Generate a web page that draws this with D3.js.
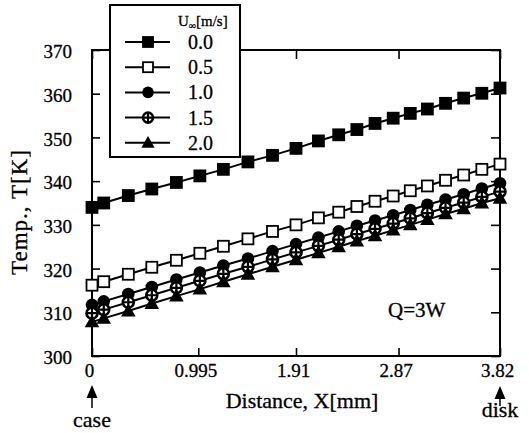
<!DOCTYPE html>
<html>
<head>
<meta charset="utf-8">
<script src="https://cdn.jsdelivr.net/npm/d3@7"></script>
<style>
  body { margin: 0; background: #fff; }
  svg { display: block; font-family: "Liberation Serif", "Times New Roman", serif; }
  text { stroke: #000; stroke-width: 0.3px; }
</style>
</head>
<body>
<div id="chart"></div>
<script>
// distance along the fin, mm
const distance = [0, 0.11, 0.34, 0.56, 0.79, 1.01, 1.23, 1.46, 1.69, 1.91, 2.12,
                  2.31, 2.48, 2.65, 2.82, 2.98, 3.14, 3.31, 3.48, 3.65, 3.82];

// temperature, K, one list per air velocity
const temp00 = [334.0, 335.0, 336.7, 338.2, 339.7, 341.2, 342.7, 344.4, 345.9, 347.5, 349.2,
                350.6, 351.8, 353.2, 354.4, 355.5, 356.5, 357.8, 359.0, 360.1, 361.3];
const temp05 = [316.2, 317.0, 318.7, 320.3, 321.9, 323.5, 325.1, 326.8, 328.5, 330.0, 331.6,
                332.9, 334.2, 335.4, 336.6, 337.8, 338.9, 340.2, 341.4, 342.7, 343.9];
const temp10 = [311.7, 312.5, 314.2, 315.8, 317.5, 319.1, 320.7, 322.3, 324.0, 325.6, 327.1,
                328.5, 329.8, 331.0, 332.2, 333.4, 334.6, 335.8, 337.0, 338.3, 339.5];
const temp15 = [309.8, 310.6, 312.3, 313.9, 315.6, 317.2, 318.8, 320.4, 322.1, 323.7, 325.2,
                326.6, 327.9, 329.1, 330.3, 331.5, 332.7, 333.9, 335.1, 336.4, 337.6];
const temp20 = [307.8, 308.6, 310.3, 312.0, 313.7, 315.3, 317.0, 318.7, 320.4, 322.0, 323.6,
                325.0, 326.3, 327.5, 328.8, 330.0, 331.2, 332.5, 333.7, 335.0, 336.1];

const seriesNames = ['0.0', '0.5', '1.0', '1.5', '2.0'];
const markerKinds = ['square', 'openSquare', 'circle', 'crossCircle', 'triangle'];

const xTicks = [0, 0.995, 1.91, 2.87, 3.82];
const xTickLabels = ['0', '0.995', '1.91', '2.87', '3.82'];
const yTicks = [300, 310, 320, 330, 340, 350, 360, 370];

const series = [temp00, temp05, temp10, temp15, temp20].map((vals, i) => ({
    name: seriesNames[i],
    kind: markerKinds[i],
    points: vals.map((v, j) => ({ x: distance[j], y: v }))
}));

const width = 529, height = 433;
const plotLeft = 92, plotRight = 500, plotTop = 50, plotBottom = 356;

const svg = d3.select('#chart').append('svg')
    .attr('width', width)
    .attr('height', height);

const x = d3.scaleLinear().domain([0, 3.82]).range([plotLeft, plotRight]);
const y = d3.scaleLinear().domain([300, 370]).range([plotBottom, plotTop]);

// axes with inward ticks
const xAxis = svg.append('g')
    .attr('transform', `translate(0,${plotBottom})`)
    .call(d3.axisBottom(x).tickValues(xTicks)
        .tickFormat((d, i) => xTickLabels[i]).tickSize(-8).tickPadding(8));
xAxis.selectAll('text').attr('font-size', 19).attr('dx', -3);

const yAxis = svg.append('g')
    .attr('transform', `translate(${plotLeft},0)`)
    .call(d3.axisLeft(y).tickValues(yTicks).tickSize(-8).tickPadding(20));
yAxis.selectAll('text').attr('font-size', 19).attr('dy', '0.4em');

svg.append('g')
    .attr('transform', `translate(${plotRight},0)`)
    .call(d3.axisRight(y).tickValues(yTicks).tickSize(-9).tickFormat(''));

svg.append('g')
    .attr('transform', `translate(0,${plotTop})`)
    .call(d3.axisTop(x).tickValues(xTicks).tickSize(-9).tickFormat(''));

svg.selectAll('.domain').remove();
svg.selectAll('.tick line').attr('stroke', '#000').attr('stroke-width', 1.6);
svg.selectAll('.tick text').attr('fill', '#000').attr('font-family', '"Liberation Serif", serif');

svg.append('rect')
    .attr('x', plotLeft).attr('y', plotTop)
    .attr('width', plotRight - plotLeft).attr('height', plotBottom - plotTop)
    .attr('fill', 'none').attr('stroke', '#000').attr('stroke-width', 2);

// markers
function drawMarker(g, kind, cx, cy, s) {
    if (kind === 'square' || kind === 'openSquare') {
        g.append('rect')
            .attr('x', cx - s / 2).attr('y', cy - s / 2)
            .attr('width', s).attr('height', s)
            .attr('fill', kind === 'square' ? '#000' : '#fff')
            .attr('stroke', '#000').attr('stroke-width', 1.8);
    } else if (kind === 'circle') {
        g.append('circle').attr('cx', cx).attr('cy', cy).attr('r', s / 2 + 0.8)
            .attr('fill', '#000');
    } else if (kind === 'crossCircle') {
        g.append('circle').attr('cx', cx).attr('cy', cy).attr('r', s / 2)
            .attr('fill', '#fff').attr('stroke', '#000').attr('stroke-width', 2.6);
        g.append('path')
            .attr('d', `M${cx - s / 2},${cy}H${cx + s / 2}M${cx},${cy - s / 2}V${cy + s / 2}`)
            .attr('stroke', '#000').attr('stroke-width', 2.2);
    } else {
        const h = s * 1.1;
        g.append('path')
            .attr('d', `M${cx},${cy - h * 0.62}L${cx + h * 0.6},${cy + h * 0.45}L${cx - h * 0.6},${cy + h * 0.45}Z`)
            .attr('fill', '#000');
    }
}

const line = d3.line().x(d => x(d.x)).y(d => y(d.y));

series.forEach(s => {
    const g = svg.append('g');
    g.append('path')
        .attr('d', line(s.points))
        .attr('fill', 'none')
        .attr('stroke', '#000')
        .attr('stroke-width', 2);
    s.points.forEach(p => drawMarker(g, s.kind, x(p.x), y(p.y), 11));
});

// annotation
svg.append('text')
    .attr('x', 388).attr('y', 317)
    .attr('font-size', 21)
    .text('Q=3W');

// axis titles
svg.append('text')
    .attr('x', 302).attr('y', 408)
    .attr('text-anchor', 'middle')
    .attr('font-size', 22)
    .text('Distance, X[mm]');

svg.append('text')
    .attr('transform', 'translate(27,212) rotate(-90)')
    .attr('text-anchor', 'middle')
    .attr('font-size', 23)
    .attr('letter-spacing', 1)
    .text('Temp., T[K]');

// case / disk arrows
function arrow(cx, y0, y1) {
    svg.append('path')
        .attr('d', `M${cx},${y0}L${cx + 5.5},${y0 + 13}L${cx - 5.5},${y0 + 13}Z`)
        .attr('fill', '#000');
    svg.append('line')
        .attr('x1', cx).attr('x2', cx)
        .attr('y1', y0 + 10).attr('y2', y1)
        .attr('stroke', '#000').attr('stroke-width', 1.5);
}
arrow(x(0), 385, 408);
arrow(x(3.82), 386, 406);

svg.append('text')
    .attr('x', x(0)).attr('y', 427)
    .attr('text-anchor', 'middle')
    .attr('font-size', 22)
    .text('case');

svg.append('text')
    .attr('x', x(3.82)).attr('y', 417)
    .attr('text-anchor', 'middle')
    .attr('font-size', 22)
    .text('disk');

// legend
const legend = svg.append('g');
legend.append('rect')
    .attr('x', 110).attr('y', 5)
    .attr('width', 130).attr('height', 152)
    .attr('fill', '#fff').attr('stroke', '#000').attr('stroke-width', 2);

const header = legend.append('text')
    .attr('x', 178).attr('y', 26)
    .attr('font-size', 15);
header.append('tspan').text('U');
header.append('tspan').attr('font-size', 10).attr('dy', 3).text('∞');
header.append('tspan').attr('dy', -3).text('[m/s]');

series.forEach((s, i) => {
    const ly = 42 + i * 25.2;
    legend.append('line')
        .attr('x1', 125).attr('x2', 170)
        .attr('y1', ly).attr('y2', ly)
        .attr('stroke', '#000').attr('stroke-width', 2);
    drawMarker(legend, s.kind, 148, ly, 10);
    legend.append('text')
        .attr('x', 188).attr('y', ly + 7)
        .attr('font-size', 20)
        .text(s.name);
});
</script>
</body>
</html>
